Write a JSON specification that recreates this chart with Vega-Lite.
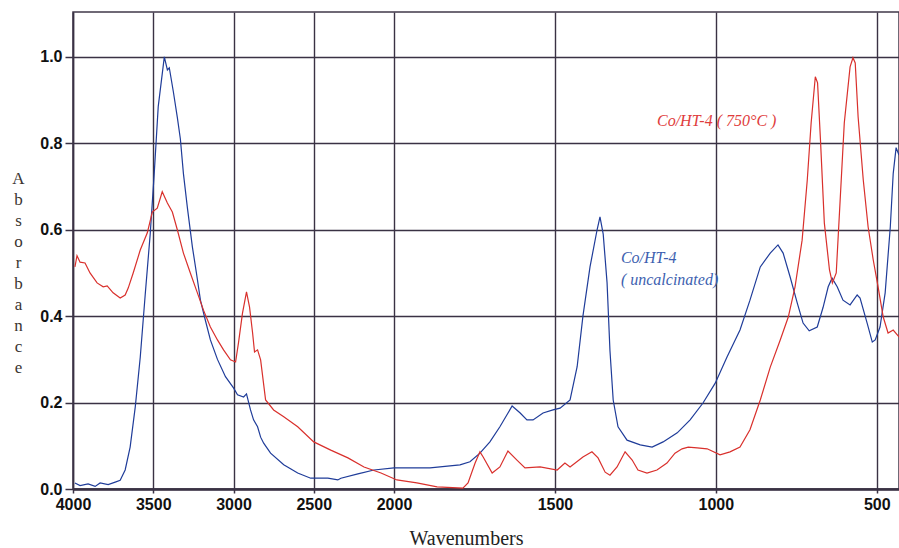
{
  "$schema": "https://vega.github.io/schema/vega-lite/v6.json",
  "width": 826,
  "height": 477,
  "autosize": "none",
  "padding": {"left": 73, "top": 12, "right": 0, "bottom": 59},
  "background": "white",
  "config": {
    "view": {"stroke": "#40384a", "strokeWidth": 1.5},
    "axis": {"gridColor": "#3a3244", "gridOpacity": 1, "gridWidth": 1.4, "tickColor": "#3a3244", "domainColor": "#3a3244"}
  },
  "datasets": {
    "spectra": [
      {"wn": 3988, "abs": 0.014, "series": "uncalcinated"},
      {"wn": 3956, "abs": 0.008, "series": "uncalcinated"},
      {"wn": 3906, "abs": 0.012, "series": "uncalcinated"},
      {"wn": 3862, "abs": 0.006, "series": "uncalcinated"},
      {"wn": 3831, "abs": 0.014, "series": "uncalcinated"},
      {"wn": 3781, "abs": 0.01, "series": "uncalcinated"},
      {"wn": 3737, "abs": 0.016, "series": "uncalcinated"},
      {"wn": 3706, "abs": 0.02, "series": "uncalcinated"},
      {"wn": 3675, "abs": 0.044, "series": "uncalcinated"},
      {"wn": 3644, "abs": 0.097, "series": "uncalcinated"},
      {"wn": 3612, "abs": 0.19, "series": "uncalcinated"},
      {"wn": 3581, "abs": 0.305, "series": "uncalcinated"},
      {"wn": 3550, "abs": 0.45, "series": "uncalcinated"},
      {"wn": 3519, "abs": 0.59, "series": "uncalcinated"},
      {"wn": 3494, "abs": 0.73, "series": "uncalcinated"},
      {"wn": 3469, "abs": 0.885, "series": "uncalcinated"},
      {"wn": 3431, "abs": 1.0, "series": "uncalcinated"},
      {"wn": 3412, "abs": 0.97, "series": "uncalcinated"},
      {"wn": 3400, "abs": 0.975, "series": "uncalcinated"},
      {"wn": 3375, "abs": 0.92, "series": "uncalcinated"},
      {"wn": 3350, "abs": 0.86, "series": "uncalcinated"},
      {"wn": 3331, "abs": 0.81, "series": "uncalcinated"},
      {"wn": 3312, "abs": 0.73, "series": "uncalcinated"},
      {"wn": 3287, "abs": 0.65, "series": "uncalcinated"},
      {"wn": 3256, "abs": 0.56, "series": "uncalcinated"},
      {"wn": 3231, "abs": 0.5, "series": "uncalcinated"},
      {"wn": 3206, "abs": 0.437, "series": "uncalcinated"},
      {"wn": 3175, "abs": 0.39, "series": "uncalcinated"},
      {"wn": 3144, "abs": 0.345, "series": "uncalcinated"},
      {"wn": 3100, "abs": 0.3, "series": "uncalcinated"},
      {"wn": 3050, "abs": 0.26, "series": "uncalcinated"},
      {"wn": 3000, "abs": 0.234, "series": "uncalcinated"},
      {"wn": 2975, "abs": 0.218, "series": "uncalcinated"},
      {"wn": 2937, "abs": 0.213, "series": "uncalcinated"},
      {"wn": 2919, "abs": 0.22, "series": "uncalcinated"},
      {"wn": 2894, "abs": 0.183, "series": "uncalcinated"},
      {"wn": 2875, "abs": 0.16, "series": "uncalcinated"},
      {"wn": 2850, "abs": 0.144, "series": "uncalcinated"},
      {"wn": 2831, "abs": 0.12, "series": "uncalcinated"},
      {"wn": 2812, "abs": 0.106, "series": "uncalcinated"},
      {"wn": 2769, "abs": 0.083, "series": "uncalcinated"},
      {"wn": 2687, "abs": 0.056, "series": "uncalcinated"},
      {"wn": 2600, "abs": 0.037, "series": "uncalcinated"},
      {"wn": 2519, "abs": 0.025, "series": "uncalcinated"},
      {"wn": 2412, "abs": 0.025, "series": "uncalcinated"},
      {"wn": 2350, "abs": 0.021, "series": "uncalcinated"},
      {"wn": 2331, "abs": 0.025, "series": "uncalcinated"},
      {"wn": 2225, "abs": 0.035, "series": "uncalcinated"},
      {"wn": 2125, "abs": 0.044, "series": "uncalcinated"},
      {"wn": 2000, "abs": 0.049, "series": "uncalcinated"},
      {"wn": 1888, "abs": 0.049, "series": "uncalcinated"},
      {"wn": 1795, "abs": 0.056, "series": "uncalcinated"},
      {"wn": 1764, "abs": 0.063, "series": "uncalcinated"},
      {"wn": 1733, "abs": 0.083, "series": "uncalcinated"},
      {"wn": 1702, "abs": 0.109, "series": "uncalcinated"},
      {"wn": 1671, "abs": 0.144, "series": "uncalcinated"},
      {"wn": 1633, "abs": 0.192, "series": "uncalcinated"},
      {"wn": 1608, "abs": 0.176, "series": "uncalcinated"},
      {"wn": 1587, "abs": 0.16, "series": "uncalcinated"},
      {"wn": 1568, "abs": 0.16, "series": "uncalcinated"},
      {"wn": 1537, "abs": 0.176, "series": "uncalcinated"},
      {"wn": 1506, "abs": 0.183, "series": "uncalcinated"},
      {"wn": 1484, "abs": 0.187, "series": "uncalcinated"},
      {"wn": 1453, "abs": 0.206, "series": "uncalcinated"},
      {"wn": 1431, "abs": 0.283, "series": "uncalcinated"},
      {"wn": 1413, "abs": 0.4, "series": "uncalcinated"},
      {"wn": 1391, "abs": 0.514, "series": "uncalcinated"},
      {"wn": 1369, "abs": 0.6, "series": "uncalcinated"},
      {"wn": 1360, "abs": 0.63, "series": "uncalcinated"},
      {"wn": 1350, "abs": 0.59, "series": "uncalcinated"},
      {"wn": 1338, "abs": 0.477, "series": "uncalcinated"},
      {"wn": 1329, "abs": 0.32, "series": "uncalcinated"},
      {"wn": 1319, "abs": 0.206, "series": "uncalcinated"},
      {"wn": 1304, "abs": 0.144, "series": "uncalcinated"},
      {"wn": 1276, "abs": 0.113, "series": "uncalcinated"},
      {"wn": 1235, "abs": 0.102, "series": "uncalcinated"},
      {"wn": 1198, "abs": 0.097, "series": "uncalcinated"},
      {"wn": 1164, "abs": 0.109, "series": "uncalcinated"},
      {"wn": 1120, "abs": 0.13, "series": "uncalcinated"},
      {"wn": 1080, "abs": 0.16, "series": "uncalcinated"},
      {"wn": 1040, "abs": 0.199, "series": "uncalcinated"},
      {"wn": 1002, "abs": 0.245, "series": "uncalcinated"},
      {"wn": 965, "abs": 0.306, "series": "uncalcinated"},
      {"wn": 925, "abs": 0.368, "series": "uncalcinated"},
      {"wn": 894, "abs": 0.437, "series": "uncalcinated"},
      {"wn": 862, "abs": 0.514, "series": "uncalcinated"},
      {"wn": 831, "abs": 0.546, "series": "uncalcinated"},
      {"wn": 807, "abs": 0.565, "series": "uncalcinated"},
      {"wn": 791, "abs": 0.546, "series": "uncalcinated"},
      {"wn": 769, "abs": 0.49, "series": "uncalcinated"},
      {"wn": 747, "abs": 0.43, "series": "uncalcinated"},
      {"wn": 729, "abs": 0.384, "series": "uncalcinated"},
      {"wn": 710, "abs": 0.366, "series": "uncalcinated"},
      {"wn": 685, "abs": 0.375, "series": "uncalcinated"},
      {"wn": 667, "abs": 0.42, "series": "uncalcinated"},
      {"wn": 651, "abs": 0.468, "series": "uncalcinated"},
      {"wn": 639, "abs": 0.488, "series": "uncalcinated"},
      {"wn": 623, "abs": 0.468, "series": "uncalcinated"},
      {"wn": 605, "abs": 0.437, "series": "uncalcinated"},
      {"wn": 583, "abs": 0.426, "series": "uncalcinated"},
      {"wn": 561, "abs": 0.449, "series": "uncalcinated"},
      {"wn": 552, "abs": 0.442, "series": "uncalcinated"},
      {"wn": 530, "abs": 0.384, "series": "uncalcinated"},
      {"wn": 514, "abs": 0.34, "series": "uncalcinated"},
      {"wn": 505, "abs": 0.345, "series": "uncalcinated"},
      {"wn": 490, "abs": 0.375, "series": "uncalcinated"},
      {"wn": 474, "abs": 0.454, "series": "uncalcinated"},
      {"wn": 458, "abs": 0.607, "series": "uncalcinated"},
      {"wn": 449, "abs": 0.73, "series": "uncalcinated"},
      {"wn": 440, "abs": 0.79, "series": "uncalcinated"},
      {"wn": 431, "abs": 0.773, "series": "uncalcinated"},

      {"wn": 3988, "abs": 0.514, "series": "750"},
      {"wn": 3975, "abs": 0.54, "series": "750"},
      {"wn": 3956, "abs": 0.525, "series": "750"},
      {"wn": 3925, "abs": 0.523, "series": "750"},
      {"wn": 3894, "abs": 0.5, "series": "750"},
      {"wn": 3850, "abs": 0.477, "series": "750"},
      {"wn": 3812, "abs": 0.468, "series": "750"},
      {"wn": 3787, "abs": 0.47, "series": "750"},
      {"wn": 3750, "abs": 0.454, "series": "750"},
      {"wn": 3706, "abs": 0.442, "series": "750"},
      {"wn": 3675, "abs": 0.449, "series": "750"},
      {"wn": 3656, "abs": 0.465, "series": "750"},
      {"wn": 3625, "abs": 0.5, "series": "750"},
      {"wn": 3581, "abs": 0.553, "series": "750"},
      {"wn": 3537, "abs": 0.593, "series": "750"},
      {"wn": 3506, "abs": 0.641, "series": "750"},
      {"wn": 3475, "abs": 0.65, "series": "750"},
      {"wn": 3444, "abs": 0.688, "series": "750"},
      {"wn": 3412, "abs": 0.662, "series": "750"},
      {"wn": 3381, "abs": 0.641, "series": "750"},
      {"wn": 3350, "abs": 0.6, "series": "750"},
      {"wn": 3312, "abs": 0.546, "series": "750"},
      {"wn": 3269, "abs": 0.5, "series": "750"},
      {"wn": 3225, "abs": 0.454, "series": "750"},
      {"wn": 3187, "abs": 0.414, "series": "750"},
      {"wn": 3144, "abs": 0.375, "series": "750"},
      {"wn": 3100, "abs": 0.345, "series": "750"},
      {"wn": 3062, "abs": 0.322, "series": "750"},
      {"wn": 3019, "abs": 0.299, "series": "750"},
      {"wn": 2987, "abs": 0.294, "series": "750"},
      {"wn": 2969, "abs": 0.338, "series": "750"},
      {"wn": 2944, "abs": 0.407, "series": "750"},
      {"wn": 2919, "abs": 0.456, "series": "750"},
      {"wn": 2900, "abs": 0.421, "series": "750"},
      {"wn": 2881, "abs": 0.361, "series": "750"},
      {"wn": 2869, "abs": 0.317, "series": "750"},
      {"wn": 2850, "abs": 0.322, "series": "750"},
      {"wn": 2831, "abs": 0.299, "series": "750"},
      {"wn": 2800, "abs": 0.206, "series": "750"},
      {"wn": 2750, "abs": 0.183, "series": "750"},
      {"wn": 2687, "abs": 0.167, "series": "750"},
      {"wn": 2600, "abs": 0.144, "series": "750"},
      {"wn": 2500, "abs": 0.109, "series": "750"},
      {"wn": 2394, "abs": 0.09, "series": "750"},
      {"wn": 2287, "abs": 0.072, "series": "750"},
      {"wn": 2187, "abs": 0.051, "series": "750"},
      {"wn": 2081, "abs": 0.037, "series": "750"},
      {"wn": 1991, "abs": 0.021, "series": "750"},
      {"wn": 1929, "abs": 0.014, "series": "750"},
      {"wn": 1866, "abs": 0.005, "series": "750"},
      {"wn": 1786, "abs": 0.002, "series": "750"},
      {"wn": 1770, "abs": 0.014, "series": "750"},
      {"wn": 1748, "abs": 0.06, "series": "750"},
      {"wn": 1733, "abs": 0.086, "series": "750"},
      {"wn": 1723, "abs": 0.074, "series": "750"},
      {"wn": 1695, "abs": 0.037, "series": "750"},
      {"wn": 1671, "abs": 0.051, "series": "750"},
      {"wn": 1646, "abs": 0.088, "series": "750"},
      {"wn": 1618, "abs": 0.067, "series": "750"},
      {"wn": 1593, "abs": 0.049, "series": "750"},
      {"wn": 1546, "abs": 0.051, "series": "750"},
      {"wn": 1493, "abs": 0.044, "series": "750"},
      {"wn": 1469, "abs": 0.06, "series": "750"},
      {"wn": 1453, "abs": 0.051, "series": "750"},
      {"wn": 1437, "abs": 0.06, "series": "750"},
      {"wn": 1413, "abs": 0.074, "series": "750"},
      {"wn": 1385, "abs": 0.086, "series": "750"},
      {"wn": 1366, "abs": 0.072, "series": "750"},
      {"wn": 1344, "abs": 0.039, "series": "750"},
      {"wn": 1329, "abs": 0.032, "series": "750"},
      {"wn": 1307, "abs": 0.051, "series": "750"},
      {"wn": 1282, "abs": 0.086, "series": "750"},
      {"wn": 1260, "abs": 0.067, "series": "750"},
      {"wn": 1242, "abs": 0.044, "series": "750"},
      {"wn": 1214, "abs": 0.037, "series": "750"},
      {"wn": 1183, "abs": 0.044, "series": "750"},
      {"wn": 1152, "abs": 0.06, "series": "750"},
      {"wn": 1127, "abs": 0.083, "series": "750"},
      {"wn": 1105, "abs": 0.093, "series": "750"},
      {"wn": 1086, "abs": 0.097, "series": "750"},
      {"wn": 1058, "abs": 0.095, "series": "750"},
      {"wn": 1027, "abs": 0.093, "series": "750"},
      {"wn": 987, "abs": 0.079, "series": "750"},
      {"wn": 956, "abs": 0.086, "series": "750"},
      {"wn": 925, "abs": 0.097, "series": "750"},
      {"wn": 894, "abs": 0.137, "series": "750"},
      {"wn": 862, "abs": 0.206, "series": "750"},
      {"wn": 831, "abs": 0.282, "series": "750"},
      {"wn": 800, "abs": 0.345, "series": "750"},
      {"wn": 775, "abs": 0.398, "series": "750"},
      {"wn": 754, "abs": 0.468, "series": "750"},
      {"wn": 732, "abs": 0.576, "series": "750"},
      {"wn": 716, "abs": 0.715, "series": "750"},
      {"wn": 704, "abs": 0.847, "series": "750"},
      {"wn": 691, "abs": 0.954, "series": "750"},
      {"wn": 684, "abs": 0.94, "series": "750"},
      {"wn": 675, "abs": 0.808, "series": "750"},
      {"wn": 663, "abs": 0.616, "series": "750"},
      {"wn": 647, "abs": 0.507, "series": "750"},
      {"wn": 638, "abs": 0.477, "series": "750"},
      {"wn": 626, "abs": 0.5, "series": "750"},
      {"wn": 616, "abs": 0.639, "series": "750"},
      {"wn": 601, "abs": 0.847, "series": "750"},
      {"wn": 583, "abs": 0.977, "series": "750"},
      {"wn": 574, "abs": 0.998, "series": "750"},
      {"wn": 567, "abs": 0.986, "series": "750"},
      {"wn": 558, "abs": 0.861, "series": "750"},
      {"wn": 542, "abs": 0.715, "series": "750"},
      {"wn": 527, "abs": 0.607, "series": "750"},
      {"wn": 511, "abs": 0.53, "series": "750"},
      {"wn": 496, "abs": 0.468, "series": "750"},
      {"wn": 480, "abs": 0.398, "series": "750"},
      {"wn": 465, "abs": 0.361, "series": "750"},
      {"wn": 449, "abs": 0.368, "series": "750"},
      {"wn": 431, "abs": 0.352, "series": "750"}
    ],
    "labels": [
      {"wn": 1183, "abs": 0.852, "text": "Co/HT-4 ( 750°C )", "series": "750"},
      {"wn": 1295, "abs": 0.535, "text": "Co/HT-4", "series": "uncalcinated"},
      {"wn": 1295, "abs": 0.484, "text": "( uncalcinated)", "series": "uncalcinated"}
    ]
  },
  "layer": [
    {
      "data": {"name": "spectra"},
      "mark": {"type": "line", "strokeWidth": 1.2, "clip": true},
      "encoding": {
        "x": {
          "field": "wn", "type": "quantitative",
          "scale": {"domain": [4000, 2000, 431], "range": [0, 321, 826], "nice": false, "zero": false},
          "axis": {
            "values": [4000, 3500, 3000, 2500, 2000, 1500, 1000, 500],
            "format": "d",
            "labelFlush": false,
            "labelOverlap": false,
            "title": "Wavenumbers",
            "titleFont": "Liberation Serif", "titleFontSize": 20, "titleFontWeight": "normal", "titleColor": "#222",
            "titleX": 393, "titleY": 49, "titleAlign": "center", "titleBaseline": "middle", "titleAnchor": null,
            "labelFont": "Liberation Sans", "labelFontSize": 16, "labelFontWeight": "bold", "labelColor": "#111",
            "labelPadding": 3, "tickSize": 4, "tickWidth": 1.5,
            "domainWidth": 2.5
          }
        },
        "y": {
          "field": "abs", "type": "quantitative",
          "scale": {"domain": [0, 1.104], "nice": false, "zero": false},
          "axis": {
            "values": [0, 0.2, 0.4, 0.6, 0.8, 1.0],
            "format": ".1f",
            "labelFlush": false,
            "title": ["A", "b", "s", "o", "r", "b", "a", "n", "c", "e"],
            "titleAngle": 0,
            "titleFont": "Liberation Serif", "titleFontSize": 17, "titleFontWeight": "normal", "titleColor": "#3a3430",
            "titleLineHeight": 21,
            "titleX": -55, "titleY": 166, "titleAlign": "center", "titleBaseline": "middle", "titleAnchor": null,
            "labelFont": "Liberation Sans", "labelFontSize": 16, "labelFontWeight": "bold", "labelColor": "#111",
            "labelPadding": 3, "tickSize": 8, "tickWidth": 1.5,
            "domainWidth": 1.5
          }
        },
        "color": {
          "field": "series", "type": "nominal",
          "scale": {"domain": ["uncalcinated", "750"], "range": ["#1f3c99", "#d9302c"]},
          "legend": null
        }
      }
    },
    {
      "data": {"name": "labels"},
      "mark": {"type": "text", "font": "Liberation Serif", "fontStyle": "italic", "fontSize": 16, "align": "left", "baseline": "middle"},
      "encoding": {
        "x": {"field": "wn", "type": "quantitative"},
        "y": {"field": "abs", "type": "quantitative"},
        "text": {"field": "text"},
        "color": {
          "field": "series", "type": "nominal",
          "scale": {"domain": ["uncalcinated", "750"], "range": ["#3d5fb0", "#e03c3c"]},
          "legend": null
        }
      }
    }
  ],
  "resolve": {"scale": {"color": "independent"}}
}
